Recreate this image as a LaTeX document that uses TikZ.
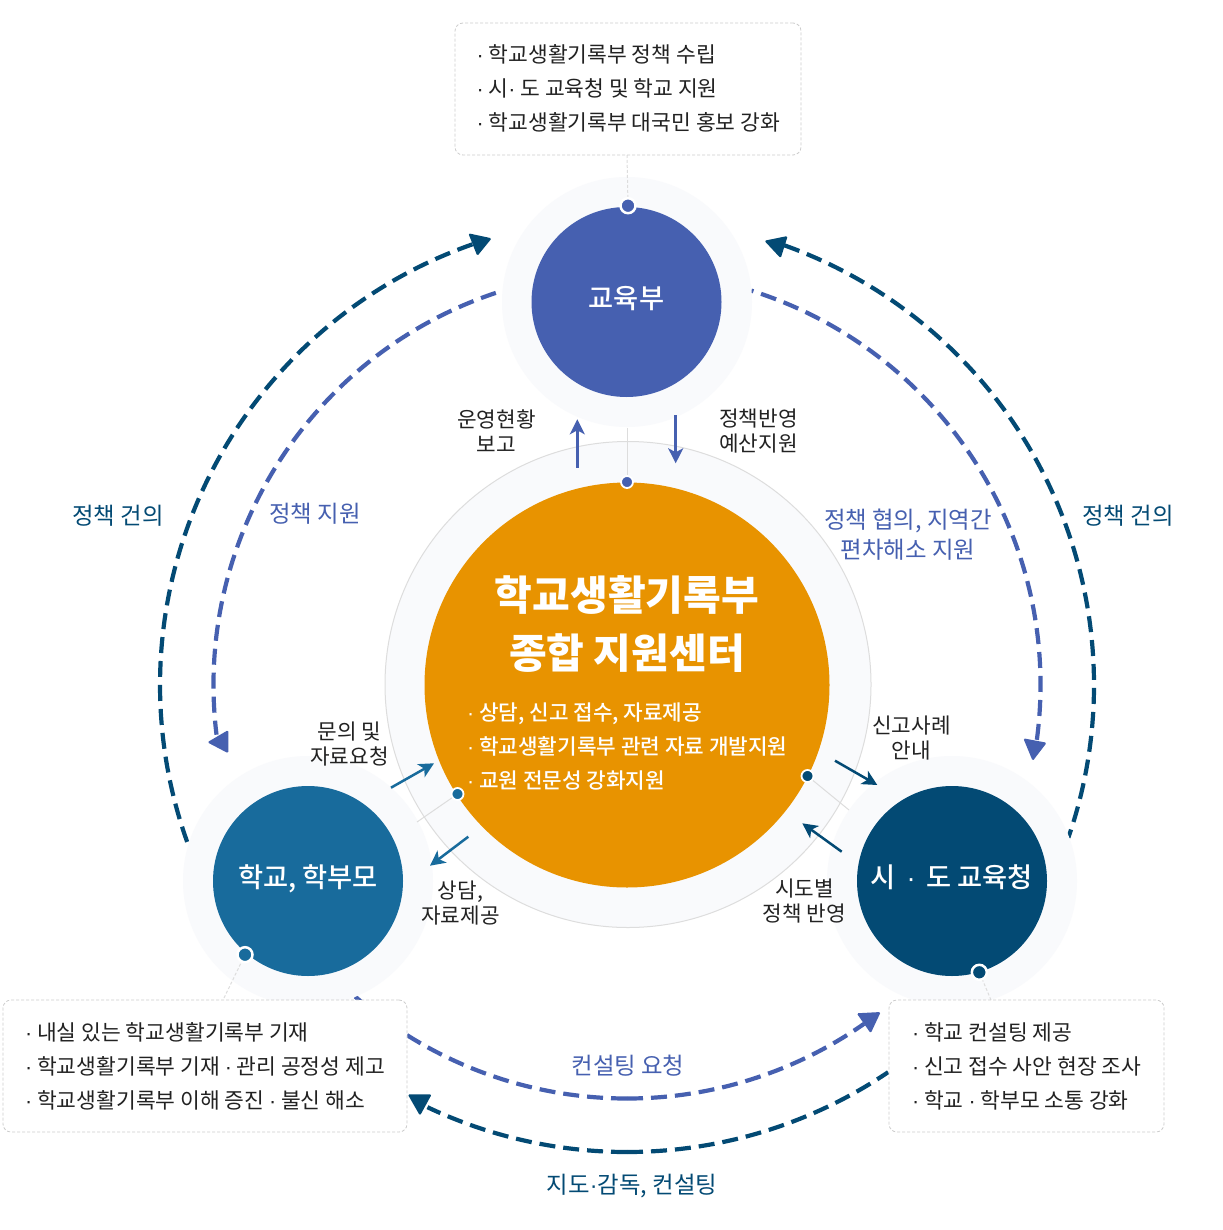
\documentclass[tikz,border=0pt]{standalone}
\usepackage{fontspec}
\setmainfont{Noto Sans CJK KR}
\newfontfamily\dotfont{Liberation Sans}
\newfontfamily\medfont{Noto Sans CJK KR Medium}
\usetikzlibrary{arrows.meta}
\definecolor{cblue}{HTML}{4660B0}
\definecolor{corange}{HTML}{E89300}
\definecolor{cteal}{HTML}{186B9C}
\definecolor{cnavy}{HTML}{034A74}
\definecolor{chalo}{HTML}{F9FAFC}
\definecolor{cline}{HTML}{DDDDDD}
\definecolor{cdash}{HTML}{CCCCCC}
\definecolor{ctext}{HTML}{222222}
\newcommand{\fsz}[2][0]{\fontsize{#2}{#1}\selectfont}
\newcommand{\dt}{{\dotfont ·}}
\tikzset{
  x=1pt,y=-1pt,
  halo/.style={circle,fill=chalo,minimum size=250pt,inner sep=0pt},
  disc/.style={circle,minimum size=190pt,inner sep=0pt,text=white,font=\fsz{27.3}\medfont,text height=20pt,text depth=7pt},
  bigarc/.style={line width=4.2pt,dash pattern=on 16pt off 8pt},
  head/.style={rounded corners=1.5pt},
  infobox/.style={draw=cdash,dashed,dash pattern=on 3pt off 2pt,fill=white,rounded corners=8pt,line width=0.8pt},
  boxline/.style={anchor=base west,inner sep=0pt,text=ctext,font=\fsz{21.5}},
  leader/.style={draw=cline,line width=1pt,dash pattern=on 3pt off 2pt},
  solidlead/.style={draw=cline,line width=1pt},
  smalltext/.style={align=center,inner sep=0pt,text=ctext,font=\fsz[25]{21.3}},
  bigtext/.style={align=center,inner sep=0pt,font=\fsz[30]{23.4}},
  shortarrow/.style={line width=2.5pt,-{Stealth[length=15pt,width=15pt,inset=4pt]}},
  pin/.style={circle,draw=white,line width=2.5pt,minimum size=15pt,inner sep=0pt},
  smallpin/.style={circle,draw=white,line width=1.8pt,minimum size=12pt,inner sep=0pt},
}
\begin{document}
\begin{tikzpicture}
\useasboundingbox[fill=white] (0,0) rectangle (1222,1230);
\coordinate (c) at (627,685);
% large dashed arcs
\draw[cnavy,bigarc,dash phase=23.4pt] (c) ++(199.7:467pt) arc[start angle=199.7,end angle=109.1,radius=467pt];
\draw[cnavy,bigarc,dash phase=7.3pt] (c) ++(-19.1:467pt) arc[start angle=-19.1,end angle=71.6,radius=467pt];
\draw[cnavy,bigarc] (c) ++(-90:467pt) arc[start angle=-90,end angle=-56,radius=467pt];
\draw[cnavy,bigarc] (c) ++(-90:467pt) arc[start angle=-90,end angle=-115.3,radius=467pt];
\draw[cblue,bigarc,dash phase=0.3pt] (c) ++(108.5:413.5pt) arc[start angle=108.5,end angle=186.9,radius=413.5pt];
\draw[cblue,bigarc,dash phase=13.8pt] (c) ++(72.5:413.5pt) arc[start angle=72.5,end angle=-7.9,radius=413.5pt];
\draw[cblue,bigarc] (c) ++(-90:413.5pt) arc[start angle=-90,end angle=-55,radius=413.5pt];
\draw[cblue,bigarc] (c) ++(-90:413.5pt) arc[start angle=-90,end angle=-131.1,radius=413.5pt];
% arrow heads
\fill[cnavy,head] (468.3,233.3) -- (491.7,238.3) -- (477.3,256) -- cycle;
\fill[cnavy,head] (764.3,240.7) -- (787.7,236) -- (780.7,258.3) -- cycle;
\fill[cnavy,head] (407.7,1094.3) -- (431.7,1094.3) -- (420,1115.7) -- cycle;
\fill[cblue,head] (856.7,1013.3) -- (880.7,1012) -- (870.7,1033.3) -- cycle;
\fill[cblue,head] (228.3,730) -- (207.3,742.3) -- (228.3,753.3) -- cycle;
\fill[cblue,head] (1023.3,738.3) -- (1046.7,742.7) -- (1032.7,761) -- cycle;
% halos
\node[halo] (hT) at (627,302) {};
\node[halo] (hL) at (308,881) {};
\node[halo] (hR) at (952,881) {};
% centre ring
\node[circle,fill=chalo,draw=cline,line width=1pt,minimum size=486pt,inner sep=0pt] (ring) at (628,684.5) {};
% leaders
\coordinate (lT) at (627,428);
\coordinate (lL) at (417,822);
\coordinate (lR) at (849,810);
\coordinate (bT) at (627,155);
\coordinate (bL) at (224,998);
\coordinate (bR) at (991,1000);
\coordinate (dT) at (628,205.7);
\coordinate (dL) at (245,954.7);
\coordinate (dR) at (979.3,972.3);
\coordinate (pT) at (627,482);
\coordinate (pL) at (457.5,794);
\coordinate (pR) at (807.5,776);
\draw[solidlead] (lT) -- (pT);
\draw[solidlead] (lL) -- (pL);
\draw[solidlead] (lR) -- (pR);
\draw[leader] (bT) -- (dT);
\draw[leader] (bL) -- (dL);
\draw[leader] (bR) -- (dR);
% discs
\node[disc,fill=cblue] (T) at (626.5,302) {교육부};
\node[disc,fill=cteal] (L) at (308,881) {학교, 학부모};
\node[disc,fill=cnavy] (R) at (952,881) {시 \,\dt{}\, 도 교육청};
\node[circle,fill=corange,minimum size=405pt,inner sep=0pt] (C) at (c) {};
% pins
\node[pin,fill=cblue] at (dT) {};
\node[pin,fill=cteal] at (dL) {};
\node[pin,fill=cnavy] at (dR) {};
\node[smallpin,fill=cblue] at (pT) {};
\node[smallpin,fill=cteal] at (pL) {};
\node[smallpin,fill=cnavy] at (pR) {};
% centre text
\node[inner sep=0pt,text=white,font=\fsz{41}\bfseries] (t1) at (627,595) {학교생활기록부};
\node[inner sep=0pt,text=white,font=\fsz{41}\bfseries] (t2) at (627,653) {종합 지원센터};
\node[boxline,text=white,font=\fsz{21.3}\medfont] (c1) at (467,720) {\dt{} 상담, 신고 접수, 자료제공};
\node[boxline,text=white,font=\fsz{21.3}\medfont] (c2) at (467,754) {\dt{} 학교생활기록부 관련 자료 개발지원};
\node[boxline,text=white,font=\fsz{21.3}\medfont] (c3) at (467,788) {\dt{} 교원 전문성 강화지원};
% short arrows
\coordinate (a1s) at (577.3,467.7); \coordinate (a1e) at (577.3,419.3);
\coordinate (a2s) at (675.7,415);   \coordinate (a2e) at (675.7,463.3);
\coordinate (a3s) at (391,787.7);   \coordinate (a3e) at (434,763.3);
\coordinate (a4s) at (468.3,836.7); \coordinate (a4e) at (430,865.7);
\coordinate (a5s) at (835,760.7);   \coordinate (a5e) at (877.3,785);
\coordinate (a6s) at (841.7,851.7); \coordinate (a6e) at (802.3,823.3);
\draw[shortarrow,cblue] (a1s) -- (a1e);
\draw[shortarrow,cblue] (a2s) -- (a2e);
\draw[shortarrow,cteal] (a3s) -- (a3e);
\draw[shortarrow,cteal] (a4s) -- (a4e);
\draw[shortarrow,cnavy] (a5s) -- (a5e);
\draw[shortarrow,cnavy] (a6s) -- (a6e);
% boxes
\node[infobox,minimum width=346pt,minimum height=132pt,inner sep=0pt] (boxT) at (628,89) {};
\node[infobox,minimum width=404pt,minimum height=132pt,inner sep=0pt] (boxL) at (205,1066) {};
\node[infobox,minimum width=275pt,minimum height=132pt,inner sep=0pt] (boxR) at (1026.5,1066) {};
\node[boxline] (bt1) at (476.5,63) {\dt{} 학교생활기록부 정책 수립};
\node[boxline] (bt2) at (476.5,97) {\dt{} 시\dt{} 도 교육청 및 학교 지원};
\node[boxline] (bt3) at (476.5,131) {\dt{} 학교생활기록부 대국민 홍보 강화};
\node[boxline] (bl1) at (25,1040) {\dt{} 내실 있는 학교생활기록부 기재};
\node[boxline] (bl2) at (25,1074) {\dt{} 학교생활기록부 기재 \dt{} 관리 공정성 제고};
\node[boxline] (bl3) at (25,1108) {\dt{} 학교생활기록부 이해 증진 \dt{} 불신 해소};
\node[boxline] (br1) at (912,1040) {\dt{} 학교 컨설팅 제공};
\node[boxline] (br2) at (912,1074) {\dt{} 신고 접수 사안 현장 조사};
\node[boxline] (br3) at (912,1108) {\dt{} 학교 \dt{} 학부모 소통 강화};
% labels
\node[smalltext] (n1) at (496.5,431.5) {운영현황\\보고};
\node[smalltext] (n2) at (758.5,431.5) {정책반영\\예산지원};
\node[smalltext] (n3) at (349.5,744) {문의 및\\자료요청};
\node[smalltext] (n4) at (460.5,903) {상담,\\자료제공};
\node[smalltext] (n5) at (911.5,738) {신고사례\\안내};
\node[smalltext] (n6) at (804.5,901) {시도별\\정책 반영};
\node[bigtext,text=cnavy] (m1) at (118,516) {정책 건의};
\node[bigtext,text=cnavy] (m2) at (1128,516) {정책 건의};
\node[bigtext,text=cblue] (m3) at (315,514) {정책 지원};
\node[bigtext,text=cblue] (m4) at (908,535) {정책 협의, 지역간\\편차해소 지원};
\node[bigtext,text=cblue] (m5) at (628,1066) {컨설팅 요청};
\node[bigtext,text=cnavy] (m6) at (632,1186) {지도\dt{}감독, 컨설팅};
\end{tikzpicture}
\end{document}
